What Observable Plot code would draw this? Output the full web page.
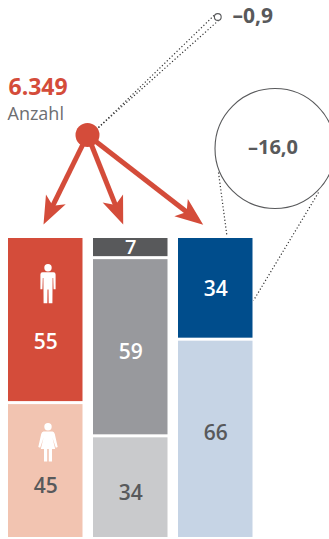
<!DOCTYPE html>
<html lang="de">
<head>
<meta charset="utf-8">
<script src="https://cdn.jsdelivr.net/npm/d3@7"></script>
<script src="https://cdn.jsdelivr.net/npm/@observablehq/plot@0.6"></script>
<style>
html,body{margin:0;padding:0;background:#fff;overflow:hidden}
svg{display:block}
</style>
</head>
<body>
<div id="chart"></div>
<script>
// ---- data (top to bottom in every column)
const column0Values = [55, 45];
const column1Values = [7, 59, 34];
const column2Values = [34, 66];
const columnFills = [["#d44c3a", "#f2c4b1"], ["#58595b", "#98999d", "#c9cacc"], ["#004d8c", "#c6d4e5"]];
const labelFills = [["#fff", "#58595b"], ["#fff", "#fff", "#58595b"], ["#fff", "#58595b"]];
const labelShifts = [[22.5, 15.5], [0.5, 5, 6], [1, -6]];
const total = 6349;
const totalLabel = "6.349";
const totalCaption = "Anzahl";
const deltas = [-0.9, -16.0];
const deltaLabels = ["–0,9", "–16,0"];

const INK = "#58595b", RED = "#d44c3a", FONT = "'Open Sans', sans-serif";

// ---- scales: columns are numbered 0,1,2; values are percent
const X = {domain: [0, 3], range: [8, 263]};
const Y = {domain: [0, 100], range: [538.5, 236.5]};
const barWidth = 74.5 / 85;
// annotation layout helpers (annotations live outside the percent range)
const ux = p => (p - 8) / 85;
const uy = p => (538.5 - p) / 3.02;

const rows = [column0Values, column1Values, column2Values].flatMap((vals, col) => {
  const tops = d3.cumsum(vals);
  return vals.map((v, i) => ({
    col, value: v,
    y2: 100 - (tops[i] - v), y1: 100 - tops[i],
    fill: columnFills[col][i], ink: labelFills[col][i], shift: labelShifts[col][i]
  }));
});

// ---- custom symbols
const head = {draw(c) {
  c.moveTo(0, 0); c.lineTo(-11, -28); c.lineTo(0, -21); c.lineTo(11, -28); c.closePath();
}};
const man = {draw(c) {
  c.moveTo(3.7, -15.7); c.arc(0, -15.7, 3.7, 0, 2 * Math.PI); c.closePath();
  c.moveTo(-5.5, -11.2); c.lineTo(5.5, -11.2);
  c.quadraticCurveTo(7.6, -11.2, 7.6, -9);
  c.lineTo(7.6, 5.7); c.lineTo(5.6, 5.7); c.lineTo(5.2, -5.5); c.lineTo(4.6, -5.5);
  c.lineTo(4.4, 19.7); c.lineTo(0.7, 19.7); c.lineTo(0.5, 6); c.lineTo(-0.5, 6); c.lineTo(-0.7, 19.7);
  c.lineTo(-4.4, 19.7); c.lineTo(-4.6, -5.5); c.lineTo(-5.2, -5.5); c.lineTo(-5.6, 5.7); c.lineTo(-7.6, 5.7);
  c.lineTo(-7.6, -9); c.quadraticCurveTo(-7.6, -11.2, -5.5, -11.2); c.closePath();
}};
const woman = {draw(c) {
  c.moveTo(3.7, -15.7); c.arc(0, -15.7, 3.7, 0, 2 * Math.PI); c.closePath();
  c.moveTo(-4.5, -11); c.lineTo(4.5, -11);
  c.quadraticCurveTo(6.2, -11, 6.8, -8.5);
  c.lineTo(9.7, 4.5); c.lineTo(7.8, 5.2); c.lineTo(4.4, -5);
  c.lineTo(7.2, 6.5); c.lineTo(4, 6.5); c.lineTo(4, 19); c.lineTo(0.8, 19); c.lineTo(0.8, 6.5);
  c.lineTo(-0.8, 6.5); c.lineTo(-0.8, 19); c.lineTo(-4, 19); c.lineTo(-4, 6.5); c.lineTo(-7.2, 6.5);
  c.lineTo(-4.4, -5); c.lineTo(-7.8, 5.2); c.lineTo(-9.7, 4.5); c.lineTo(-6.8, -8.5);
  c.quadraticCurveTo(-6.2, -11, -4.5, -11); c.closePath();
}};

// ---- annotation geometry
const node = [87, 134.5];
const arrows = [[43, 224], [122.7, 224], [202.7, 224.3]].map(([tx, ty]) => {
  const dx = tx - node[0], dy = ty - node[1], L = Math.hypot(dx, dy);
  return {
    x1: ux(node[0]), y1: uy(node[1]),
    x2: ux(tx - dx / L * 20), y2: uy(ty - dy / L * 20),
    tx: ux(tx), ty: uy(ty),
    rotate: Math.atan2(-dx, dy) * 180 / Math.PI
  };
});
const dotted = [
  [98, 127, 214, 14.5], [98, 127, 218.5, 19.5],
  [218, 172, 226.5, 236], [318, 192, 253, 300]
].map(([a, b, c, d]) => ({x1: ux(a), y1: uy(b), x2: ux(c), y2: uy(d)}));
const circles = [
  {x: ux(217.3), y: uy(16.5), r: Math.abs(deltas[0])},
  {x: ux(274.5), y: uy(148), r: Math.abs(deltas[1])}
];

const chart = Plot.plot({
  width: 329, height: 539,
  marginTop: 0, marginRight: 0, marginBottom: 0, marginLeft: 0,
  x: {...X, axis: null},
  y: {...Y, axis: null},
  r: {type: "linear", domain: [0, 16], range: [0, 60]},
  style: {fontFamily: FONT, background: "#fff"},
  marks: [
    Plot.link(dotted, {x1: "x1", y1: "y1", x2: "x2", y2: "y2", stroke: "#333", strokeWidth: 1.2, strokeDasharray: "1.2 2.2"}),
    Plot.rect(rows, {
      x1: "col", x2: d => d.col + barWidth, y1: "y1", y2: "y2",
      fill: "fill", insetTop: 1.5, insetBottom: 1.5
    }),
    Plot.link(arrows, {x1: "x1", y1: "y1", x2: "x2", y2: "y2", stroke: RED, strokeWidth: 5}),
    Plot.dot(arrows, {x: "tx", y: "ty", rotate: "rotate", symbol: head, r: 1, fill: RED, stroke: "none"}),
    Plot.dot([total], {x: () => ux(node[0]), y: () => uy(node[1]), r: 12, fill: RED, stroke: "none"}),
    Plot.dot(circles, {x: "x", y: "y", r: "r", fill: "#fff", stroke: INK, strokeWidth: 1.1}),
    Plot.dot([55], {x: () => ux(47.5), y: () => uy(283), symbol: man, r: 1, fill: "#fff", stroke: "none"}),
    Plot.dot([45], {x: () => ux(47.5), y: () => uy(442), symbol: woman, r: 1, fill: "#fff", stroke: "none"}),
    Plot.text(rows, {
      x: d => d.col + barWidth / 2, y: d => (d.y1 + d.y2) / 2 - d.shift / 3.02,
      text: d => String(d.value), fill: "ink",
      fontSize: d => d.value === 7 ? 20 : 21, fontWeight: 600
    }),
    Plot.text([totalLabel], {x: () => ux(8), y: () => uy(87), text: d => d, textAnchor: "start", fill: RED, fontSize: 23, fontWeight: 700}),
    Plot.text([totalCaption], {x: () => ux(7), y: () => uy(113.5), text: d => d, textAnchor: "start", fill: "#6d6e71", fontSize: 18, fontWeight: 400}),
    Plot.text([deltaLabels[0]], {x: () => ux(232), y: () => uy(16), text: d => d, textAnchor: "start", fill: INK, fontSize: 21, fontWeight: 700}),
    Plot.text([deltaLabels[1]], {x: () => ux(272.5), y: () => uy(147), text: d => d, textAnchor: "middle", fill: INK, fontSize: 20, fontWeight: 700})
  ]
});
document.getElementById("chart").append(chart);
</script>
</body>
</html>
